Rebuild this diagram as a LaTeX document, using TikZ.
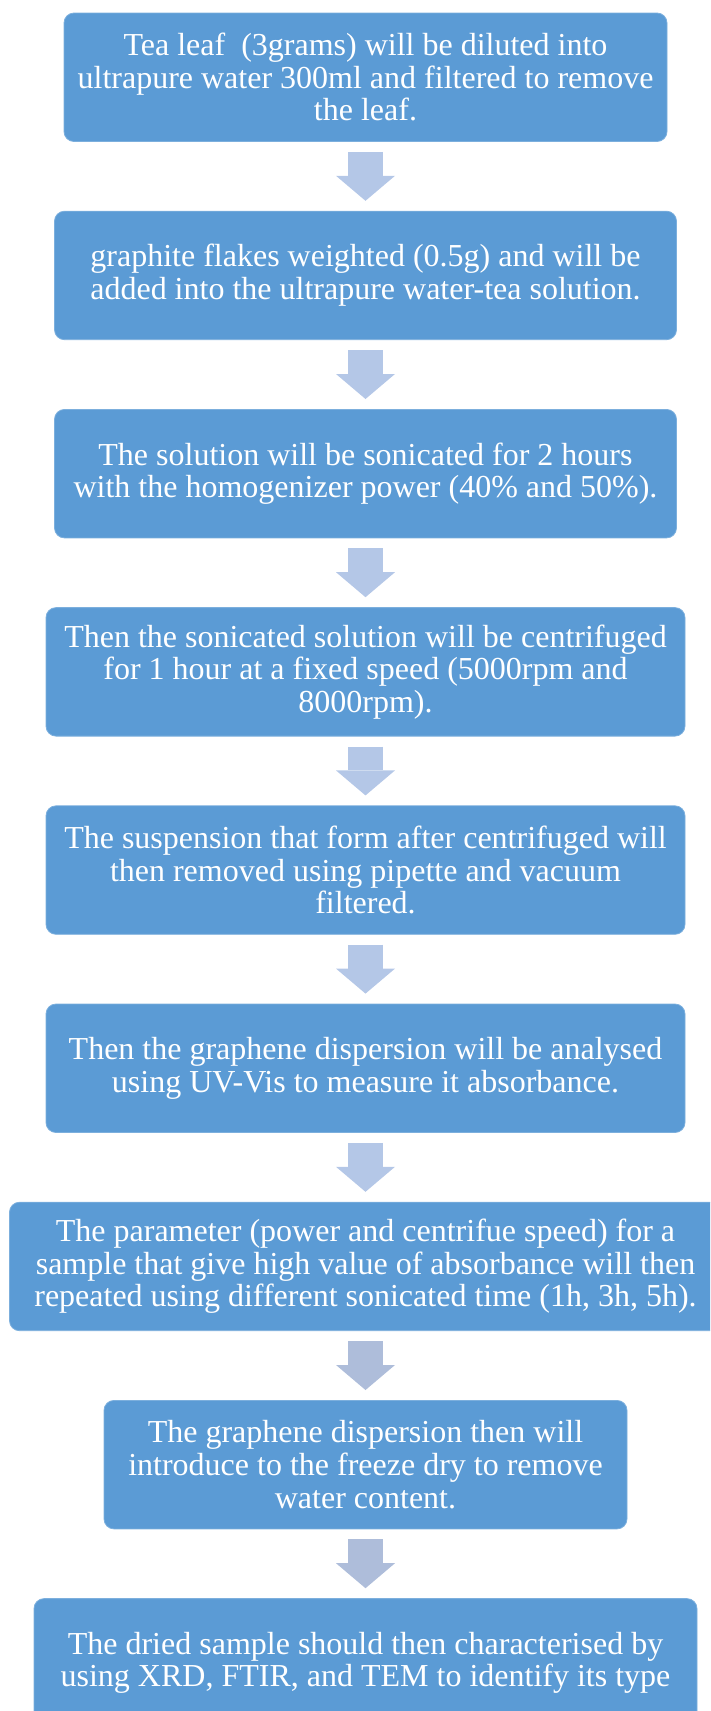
\documentclass[tikz,border=0pt]{standalone}
\usepackage{fontspec}
\setmainfont{Liberation Serif}
\usepackage{xcolor}
\usepackage{tikz}
\usetikzlibrary{arrows.meta,positioning}
\definecolor{stepblue}{HTML}{5B9BD5}
\definecolor{arrowblue}{HTML}{B4C7E7}
\definecolor{arrowgrey}{HTML}{AEBDDA}
\tikzset{
  box/.style={rectangle, draw=stepblue!80!white, line width=0.8pt, fill=stepblue, rounded corners=10pt,
    align=center, minimum width=#1, minimum height=128.5pt, inner sep=0pt,
    text=white, font=\fontsize{32}{32.7}\selectfont},
  box/.default=622pt,
  flow/.style={-{Triangle[length=25pt,width=59pt,line width=0pt]}, line width=35pt, draw=#1,
    shorten <=10pt, shorten >=10pt},
  flow/.default=arrowblue,
}

\begin{document}
\begin{tikzpicture}[node distance=68.9pt]
    \clip (0,0) rectangle (710pt,-1711pt);
    \node[box=603pt] (tea) at (365.5pt,-77.25pt) {Tea leaf~ (3grams) will be diluted into\\ ultrapure water 300ml and filtered to remove\\ the leaf.};
    \node[box=622pt, below=of tea] (graphite) {graphite flakes weighted (0.5g) and will be\\ added into the ultrapure water-tea solution.};
    \node[box=622pt, below=of graphite] (sonic) {The solution will be sonicated for 2 hours\\ with the homogenizer power (40\% and 50\%).};
    \node[box=639pt, below=of sonic] (centri) {Then the sonicated solution will be centrifuged\\ for 1 hour at a fixed speed (5000rpm and\\ 8000rpm).};
    \node[box=639pt, below=of centri] (susp) {The suspension that form after centrifuged will\\ then removed using pipette and vacuum\\ filtered.};
    \node[box=639pt, below=of susp] (uvvis) {Then the graphene dispersion will be analysed\\ using UV-Vis to measure it absorbance.};
    \node[box=712pt, below=of uvvis] (param) {The parameter (power and centrifue speed) for a\\ sample that give high value of absorbance will then\\ repeated using different sonicated time (1h, 3h, 5h).};
    \node[box=523pt, below=of param] (freeze) {The graphene dispersion then will\\ introduce to the freeze dry to remove\\ water content.};
    \node[box=663pt, below=of freeze] (char) {The dried sample should then characterised by\\ using XRD, FTIR, and TEM to identify its type};

    \draw[flow] (tea) -- (graphite);
    \draw[flow] (graphite) -- (sonic);
    \draw[flow] (sonic) -- (centri);
    \draw[flow] (centri) -- (susp);
    \draw[flow] (susp) -- (uvvis);
    \draw[flow] (uvvis) -- (param);
    \draw[flow=arrowgrey] (param) -- (freeze);
    \draw[flow=arrowgrey] (freeze) -- (char);
\end{tikzpicture}
\end{document}
